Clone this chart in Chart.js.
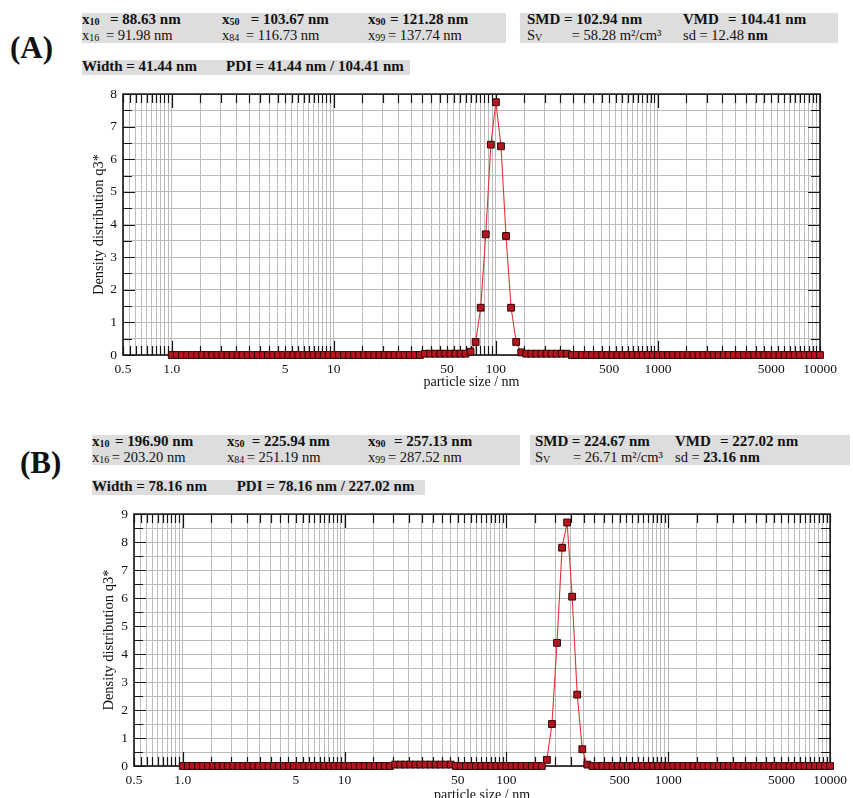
<!DOCTYPE html>
<html><head><meta charset="utf-8">
<script src="https://cdn.jsdelivr.net/npm/chart.js@4.4.1/dist/chart.umd.min.js"></script>
<style>
html,body{margin:0;padding:0;background:#fff;overflow:hidden;width:853px;height:798px;}
#page{position:relative;width:853px;height:798px;font-family:'Liberation Serif','Times New Roman',serif;color:#111;overflow:hidden;}
.box{position:absolute;background:#dddddd;}
.t{position:absolute;white-space:nowrap;line-height:1;}
.sub{font-size:10px;position:relative;top:1px;}
canvas{position:absolute;left:0;}
</style></head><body><div id="page">
<canvas id="cA" width="853" height="320" style="top:80px;width:853px;height:320px"></canvas>
<canvas id="cB" width="853" height="310" style="top:500px;width:853px;height:310px"></canvas>
</div>
<script>
// ---- data ----
const sizes = [
 1, 1.075, 1.155, 1.241, 1.334, 1.433, 1.540, 1.655, 1.778, 1.911, 2.054, 2.207, 2.371, 2.548, 2.738, 2.943, 3.162, 3.398, 3.652, 3.924, 4.217, 4.532, 4.870, 5.233, 5.623, 6.043, 6.494, 6.978, 7.499, 8.058, 8.660, 9.306,
 10, 10.75, 11.55, 12.41, 13.34, 14.33, 15.40, 16.55, 17.78, 19.11, 20.54, 22.07, 23.71, 25.48, 27.38, 29.43, 31.62, 33.98, 36.52, 39.24, 42.17, 45.32, 48.70, 52.33, 56.23, 60.43, 64.94, 69.78, 74.99, 80.58, 86.60, 93.06,
 100, 107.5, 115.5, 124.1, 133.4, 143.3, 154.0, 165.5, 177.8, 191.1, 205.4, 220.7, 237.1, 254.8, 273.8, 294.3, 316.2, 339.8, 365.2, 392.4, 421.7, 453.2, 487.0, 523.3, 562.3, 604.3, 649.4, 697.8, 749.9, 805.8, 866.0, 930.6,
 1000, 1075, 1155, 1241, 1334, 1433, 1540, 1655, 1778, 1911, 2054, 2207, 2371, 2548, 2738, 2943, 3162, 3398, 3652, 3924, 4217, 4532, 4870, 5233, 5623, 6043, 6494, 6978, 7499, 8058, 8660, 9306,
 10000
];
const valuesA = [
 0,0,0,0,0,0,0,0,0,0,0,0,0,0,0,0,0,0,0,0,0,0,0,0,0,0,0,0,0,0,0,0,
 0,0,0,0,0,0,0,0,0,0,0,0,0,0,0,0,0,0,0.04,0.04,0.04,0.04,0.04,0.04,0.04,0.04,0.04,0.1,0.4,1.45,3.7,6.45,
 7.75,6.4,3.65,1.45,0.4,0.08,0.04,0.04,0.04,0.04,0.04,0.04,0.04,0.04,0.04,0,0,0,0,0,0,0,0,0,0,0,0,0,0,0,0,0,
 0,0,0,0,0,0,0,0,0,0,0,0,0,0,0,0,0,0,0,0,0,0,0,0,0,0,0,0,0,0,0,0,
 0
];
const valuesB = [
 0,0,0,0,0,0,0,0,0,0,0,0,0,0,0,0,0,0,0,0,0,0,0,0,0,0,0,0,0,0,0,0,
 0,0,0,0,0,0,0,0,0,0,0.05,0.05,0.05,0.05,0.05,0.05,0.05,0.05,0.05,0.05,0.05,0.05,0,0,0,0,0,0,0,0,0,0,
 0,0,0,0,0,0,0,0,0.22,1.5,4.4,7.8,8.7,6.05,2.55,0.6,0.05,0,0,0,0,0,0,0,0,0,0,0,0,0,0,0,
 0,0,0,0,0,0,0,0,0,0,0,0,0,0,0,0,0,0,0,0,0,0,0,0,0,0,0,0,0,0,0,0,
 0
];
const xLabelValues = [0.5, 1, 5, 10, 50, 100, 500, 1000, 5000, 10000];
const xLabelTexts  = ['0.5', '1.0', '5', '10', '50', '100', '500', '1000', '5000', '10000'];
const gridMantissas = [1,1.5,2,2.5,3,3.5,4,4.5,5,5.5,6,6.5,7,7.5,8,8.5,9,9.5];
const gridDecades = [0.1, 1, 10, 100, 1000];
const yTicksA = [0,0.5,1,1.5,2,2.5,3,3.5,4,4.5,5,5.5,6,6.5,7,7.5,8];
const yTicksB = [0,0.5,1,1.5,2,2.5,3,3.5,4,4.5,5,5.5,6,6.5,7,7.5,8,8.5,9];
const xTitle = 'particle size / nm';
const yTitle = 'Density distribution q3*';

// ---- header text ----
const page = document.getElementById('page');
function box(x, y, w, h) {
  const d = document.createElement('div'); d.className = 'box';
  Object.assign(d.style, {left: x+'px', top: y+'px', width: w+'px', height: h+'px'});
  page.appendChild(d);
}
function put(x, base, html, size, bold) {
  const d = document.createElement('div'); d.className = 't';
  d.style.left = x + 'px'; d.style.top = (base - 0.8375 * size) + 'px';
  d.style.fontSize = size + 'px'; d.style.fontWeight = bold ? 'bold' : 'normal';
  d.innerHTML = html; page.appendChild(d);
}
const X = s => 'x<span class="sub">' + s + '</span>';
const R2 = 14.5;
// Panel A
box(82, 13, 424, 30); box(520, 13, 318, 30); box(82, 60, 328, 15);
put(10, 58, '(A)', 31, true);
put(82, 25, X('10'), 15, true);  put(110, 25, '= 88.63 nm', 15, true);
put(222, 25, X('50'), 15, true); put(250.7, 25, '= 103.67 nm', 15, true);
put(368, 25, X('90'), 15, true); put(390, 25, '= 121.28 nm', 15, true);
put(527, 25, 'SMD', 15, true);   put(564, 25, '= 102.94 nm', 15, true);
put(683, 25, 'VMD', 15, true);   put(728, 25, '= 104.41 nm', 15, true);
put(82, 40, X('16'), R2, false);  put(106, 40, '= 91.98 nm', R2, false);
put(222, 40, X('84'), R2, false); put(246, 40, '= 116.73 nm', R2, false);
put(368, 40, X('99'), R2, false); put(388, 40, '= 137.74 nm', R2, false);
put(527, 40, 'S<span class="sub">V</span>', R2, false); put(571.7, 40, '= 58.28 m²/cm³', R2, false);
put(683, 40, 'sd = 12.48 <b>nm</b>', R2, false);
put(82, 72, 'Width = 41.44 nm', 15, true); put(226, 72, 'PDI = 41.44 nm / 104.41 nm', 15, true);
// Panel B
box(92, 435, 428, 30); box(530, 435, 320, 30); box(92, 480, 333, 15);
put(20, 473, '(B)', 31, true);
put(92, 447, X('10'), 15, true);  put(115, 447, '= 196.90 nm', 15, true);
put(227, 447, X('50'), 15, true); put(251.7, 447, '= 225.94 nm', 15, true);
put(368, 447, X('90'), 15, true); put(394, 447, '= 257.13 nm', 15, true);
put(535, 447, 'SMD', 15, true);   put(571.7, 447, '= 224.67 nm', 15, true);
put(675, 447, 'VMD', 15, true);   put(720, 447, '= 227.02 nm', 15, true);
put(92, 462, X('16'), R2, false);  put(111.7, 462, '= 203.20 nm', R2, false);
put(227, 462, X('84'), R2, false); put(246.7, 462, '= 251.19 nm', R2, false);
put(368, 462, X('99'), R2, false); put(388, 462, '= 287.52 nm', R2, false);
put(535, 462, 'S<span class="sub">V</span>', R2, false); put(573, 462, '= 26.71 m²/cm³', R2, false);
put(675, 462, 'sd = <b>23.16 nm</b>', R2, false);
put(92, 492, 'Width = 78.16 nm', 15, true); put(236.7, 492, 'PDI = 78.16 nm / 227.02 nm', 15, true);

// ---- chart helpers ----
const xGrid = [];
gridDecades.forEach(d => gridMantissas.forEach(m => { if (d * m >= 0.5 - 1e-9) xGrid.push(d * m); }));
xGrid.push(10000);
const near = (a, b) => Math.abs(a - b) <= 1e-6 * Math.max(1, Math.abs(b));
function xLabel(v) {
  const i = xLabelValues.findIndex(lv => near(v, lv));
  return i >= 0 ? xLabelTexts[i] : '';
}
const decadeVals = [1, 10, 100, 1000];
const frameTicks = {
  id: 'frameTicks',
  beforeDatasetsDraw(chart) {
    const {ctx, chartArea: a, scales: {x, y}} = chart;
    ctx.save();
    ctx.strokeStyle = '#151515'; ctx.lineWidth = 1.2;
    ctx.beginPath();
    x.ticks.forEach(t => {
      const px = Math.round(x.getPixelForValue(t.value)) + 0.5;
      const len = decadeVals.some(d => near(t.value, d)) ? 14 : 9;
      ctx.moveTo(px, a.top); ctx.lineTo(px, a.top + len);
      ctx.moveTo(px, a.bottom); ctx.lineTo(px, a.bottom - len);
    });
    y.ticks.forEach(t => {
      const py = Math.round(y.getPixelForValue(t.value)) + 0.5;
      const len = Number.isInteger(t.value) ? 12 : 9;
      ctx.moveTo(a.left, py); ctx.lineTo(a.left + len, py);
      ctx.moveTo(a.right, py); ctx.lineTo(a.right - len, py);
    });
    ctx.stroke();
    ctx.lineWidth = 1.6;
    ctx.strokeRect(a.left, a.top, a.right - a.left, a.bottom - a.top);
    ctx.restore();
  }
};
const FAM = "'Liberation Serif', 'Times New Roman', serif";
function makeChart(id, values, yTicks, yMax, pad, yWidth, xHeight, xTitlePad, yTitlePad) {
  return new Chart(document.getElementById(id), {
    type: 'line',
    data: { datasets: [{
      data: sizes.map((s, i) => ({x: s, y: values[i]})),
      borderColor: '#e2343a', borderWidth: 1.1, tension: 0,
      pointStyle: 'rect', pointRadius: 4.8, pointBackgroundColor: '#b3161e',
      pointBorderColor: '#2e0606', pointBorderWidth: 1, clip: false, fill: false
    }]},
    options: {
      responsive: false, animation: false, devicePixelRatio: 1,
      layout: { padding: pad },
      plugins: { legend: {display: false}, tooltip: {enabled: false} },
      scales: {
        x: {
          type: 'logarithmic', min: 0.5, max: 10000,
          afterBuildTicks: s => { s.ticks = xGrid.map(v => ({value: v})); },
          afterFit: s => { s.height = xHeight; },
          ticks: { autoSkip: false, maxRotation: 0, minRotation: 0, padding: 6, color: '#111',
                   font: {family: FAM, size: 13.5}, callback: v => xLabel(v) },
          grid: { color: '#bcbcbc', lineWidth: 1, drawTicks: false },
          border: { display: false },
          title: { display: true, text: xTitle, color: '#111', font: {family: FAM, size: 14},
                   padding: {top: 0, bottom: xTitlePad} }
        },
        y: {
          type: 'linear', min: 0, max: yMax,
          afterBuildTicks: s => { s.ticks = yTicks.map(v => ({value: v})); },
          afterFit: s => { s.width = yWidth; },
          ticks: { autoSkip: false, padding: 6, color: '#111', font: {family: FAM, size: 13.5},
                   callback: v => Number.isInteger(v) ? String(v) : '' },
          grid: { color: '#bcbcbc', lineWidth: 1, drawTicks: false },
          border: { display: false },
          title: { display: true, text: yTitle, color: '#111', font: {family: FAM, size: 14.5},
                   padding: {top: yTitlePad, bottom: 0} }
        }
      }
    },
    plugins: [frameTicks]
  });
}
makeChart('cA', valuesA, yTicksA, 8, {top: 13, left: 88, right: 33, bottom: 0}, 35, 45, 9.2, 2);
makeChart('cB', valuesB, yTicksB, 9, {top: 13, left: 98, right: 18, bottom: 0}, 36, 44, 6.2, 2);
</script></body></html>
